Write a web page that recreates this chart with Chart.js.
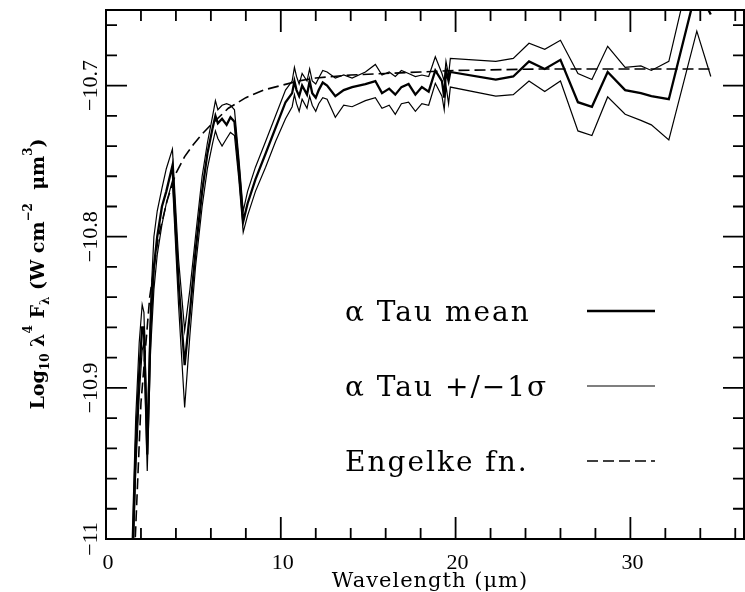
<!DOCTYPE html>
<html>
<head>
<meta charset="utf-8">
<script src="https://cdn.jsdelivr.net/npm/chart.js@4.4.1/dist/chart.umd.min.js"></script>
<style>
  html, body { margin: 0; padding: 0; background: #fff; }
  canvas { display: block; }
</style>
</head>
<body>
<canvas id="spectrum" width="745" height="592"></canvas>
<script>
// alpha Tau spectrum (microns / log10 lambda^4 F_lambda)
const wavelength = [
  1.50, 1.70, 1.90, 2.07, 2.17, 2.36, 2.55, 2.74, 2.93, 3.20,
  3.45, 3.80, 4.15, 4.50, 4.80, 5.12, 5.50, 5.80, 6.10, 6.26,
  6.40, 6.64, 6.90, 7.12, 7.35, 7.60, 7.85, 8.10, 8.55, 9.13,
  9.70, 10.27, 10.65, 10.78, 10.90, 11.05, 11.22, 11.50, 11.65, 11.80,
  12.00, 12.17, 12.40, 12.65, 13.12, 13.60, 14.08, 14.84, 15.41, 15.79,
  16.20, 16.55, 16.90, 17.31, 17.70, 18.07, 18.46, 18.84, 19.22, 19.35,
  19.45, 19.60, 19.70, 22.30, 23.30, 24.20, 25.10, 26.00, 27.00, 27.80,
  28.70, 29.70, 30.60, 31.20, 32.20, 33.80, 34.60
];
const tauMean = [
  -11.02, -10.94, -10.89, -10.86, -10.86, -10.944, -10.86, -10.82, -10.80, -10.78,
  -10.77, -10.753, -10.83, -10.885, -10.85, -10.81, -10.77, -10.745, -10.728, -10.72,
  -10.725, -10.722, -10.726, -10.721, -10.724, -10.755, -10.79, -10.778, -10.762, -10.745,
  -10.728, -10.711, -10.705, -10.697, -10.703, -10.707, -10.700, -10.706, -10.697, -10.705,
  -10.708, -10.703, -10.698, -10.700, -10.707, -10.703, -10.701, -10.699, -10.697, -10.705,
  -10.702, -10.706, -10.701, -10.699, -10.706, -10.701, -10.704, -10.690, -10.697, -10.708,
  -10.690, -10.697, -10.691, -10.696, -10.694, -10.684, -10.689, -10.683, -10.711, -10.714,
  -10.691, -10.703, -10.705, -10.707, -10.709, -10.635, -10.653
];
const tauPlus = [
  -11.00, -10.92, -10.87, -10.845, -10.85, -10.93, -10.845, -10.80, -10.783, -10.768,
  -10.755, -10.742, -10.815, -10.862, -10.835, -10.80, -10.76, -10.738, -10.72, -10.71,
  -10.716, -10.713, -10.712, -10.713, -10.716, -10.748, -10.783, -10.77, -10.754, -10.737,
  -10.720, -10.703, -10.697, -10.688, -10.694, -10.699, -10.692, -10.697, -10.689, -10.697,
  -10.699, -10.695, -10.690, -10.691, -10.695, -10.693, -10.695, -10.691, -10.686, -10.693,
  -10.691, -10.694, -10.690, -10.692, -10.694, -10.693, -10.694, -10.681, -10.692, -10.697,
  -10.684, -10.693, -10.682, -10.684, -10.682, -10.672, -10.676, -10.670, -10.692, -10.696,
  -10.674, -10.688, -10.687, -10.690, -10.684, -10.605, -10.612
];
const tauMinus = [
  -11.03, -10.955, -10.905, -10.875, -10.87, -10.955, -10.875, -10.835, -10.812, -10.792,
  -10.778, -10.763, -10.845, -10.913, -10.865, -10.82, -10.78, -10.755, -10.738, -10.73,
  -10.735, -10.74, -10.735, -10.731, -10.733, -10.762, -10.797, -10.786, -10.77, -10.754,
  -10.737, -10.722, -10.714, -10.706, -10.712, -10.717, -10.709, -10.715, -10.707, -10.713,
  -10.717, -10.712, -10.708, -10.709, -10.721, -10.713, -10.714, -10.710, -10.708, -10.715,
  -10.713, -10.719, -10.712, -10.711, -10.717, -10.712, -10.713, -10.6985, -10.707, -10.716,
  -10.700, -10.712, -10.701, -10.707, -10.706, -10.697, -10.704, -10.697, -10.730, -10.733,
  -10.7075, -10.719, -10.723, -10.726, -10.736, -10.664, -10.694
];

const engelkeWave = [1.6, 2.0, 2.5, 3.0, 3.5, 4.0, 4.5, 5.0, 5.5, 6.0, 7.0, 8.0,
  9.0, 10.0, 11.0, 12.0, 13.0, 14.0, 16.0, 18.0, 20.0, 25.0, 30.0, 34.6];
const engelkeFlux = [-11.02, -10.91, -10.84, -10.80, -10.776, -10.758, -10.747, -10.739,
  -10.732, -10.726, -10.715, -10.708, -10.703, -10.700, -10.697, -10.695, -10.694,
  -10.693, -10.692, -10.691, -10.690, -10.689, -10.689, -10.689];

const xTickLabels = [0, 10, 20, 30];
const yTickLabels = [-11, -10.9, -10.8, -10.7];

function toPoints(xs, ys) {
  return xs.map((x, i) => ({ x: x, y: ys[i] }));
}

// frame, inward ticks, labels, titles and the legend, all placed with the chart's scales
const framePlugin = {
  id: 'frame',
  afterDatasetsDraw(chart) {
    const ctx = chart.ctx;
    const a = chart.chartArea;
    const sx = chart.scales.x;
    const sy = chart.scales.y;
    ctx.save();
    ctx.strokeStyle = '#000';
    ctx.fillStyle = '#000';
    ctx.lineWidth = 2;
    ctx.strokeRect(a.left, a.top, a.right - a.left, a.bottom - a.top);

    ctx.lineWidth = 1.8;
    ctx.beginPath();
    for (let i = 0; i * 2 <= sx.max; i++) {
      const v = i * 2;
      const px = sx.getPixelForValue(v);
      const len = v % 10 === 0 ? 22 : 11;
      ctx.moveTo(px, a.bottom); ctx.lineTo(px, a.bottom - len);
      ctx.moveTo(px, a.top); ctx.lineTo(px, a.top + len);
    }
    for (let i = 0; sy.min + i * 0.02 <= sy.max + 1e-9; i++) {
      const v = sy.min + i * 0.02;
      const py = sy.getPixelForValue(v);
      const major = Math.abs(v * 10 - Math.round(v * 10)) < 1e-6;
      const len = major ? 21 : 11;
      ctx.moveTo(a.left, py); ctx.lineTo(a.left + len, py);
      ctx.moveTo(a.right, py); ctx.lineTo(a.right - len, py);
    }
    ctx.stroke();

    ctx.font = '22px "Liberation Serif"';
    ctx.textAlign = 'center';
    ctx.textBaseline = 'alphabetic';
    xTickLabels.forEach(v => {
      ctx.fillText(String(v), sx.getPixelForValue(v) + 2, 569);
    });
    yTickLabels.forEach(v => {
      ctx.save();
      ctx.translate(97, sy.getPixelForValue(v));
      ctx.rotate(-Math.PI / 2);
      ctx.fillText(String(v).replace('-', '\u2212'), 0, 0);
      ctx.restore();
    });

    ctx.font = '21px "DejaVu Serif"';
    ctx.letterSpacing = '1px';
    ctx.fillText('Wavelength (\u03bcm)', 430, 587);
    ctx.letterSpacing = '0px';

    // y title with sub/superscripts
    const parts = [
      ['Log', 0], ['10', 1], [' \u03bb', 0], ['4', -1], [' F', 0], ['\u03bb', 1],
      [' (W cm', 0], ['\u22122', -1], ['  \u03bcm', 0], ['3', -1], [')', 0]
    ];
    const big = 'bold 19px "DejaVu Serif"';
    const small = 'bold 12px "DejaVu Serif"';
    let total = 0;
    parts.forEach(p => { ctx.font = p[1] ? small : big; total += ctx.measureText(p[0]).width; });
    ctx.save();
    ctx.translate(44, 274);
    ctx.rotate(-Math.PI / 2);
    ctx.textAlign = 'left';
    let cx = -total / 2;
    parts.forEach(p => {
      ctx.font = p[1] ? small : big;
      const dy = p[1] === 1 ? 5 : (p[1] === -1 ? -12 : 0);
      ctx.fillText(p[0], cx, dy);
      cx += ctx.measureText(p[0]).width;
    });
    ctx.restore();

    // legend
    ctx.font = '28px "DejaVu Serif"';
    ctx.letterSpacing = '2px';
    ctx.textAlign = 'left';
    const rows = [321, 396, 471];
    chart.data.datasets.filter(d => d.inLegend).forEach((d, i) => {
      ctx.fillText(d.label, 345, rows[i]);
      ctx.save();
      ctx.lineWidth = d.borderWidth;
      ctx.setLineDash(d.borderDash || []);
      ctx.beginPath();
      ctx.moveTo(587, rows[i] - 10);
      ctx.lineTo(655, rows[i] - 10);
      ctx.stroke();
      ctx.restore();
    });
    ctx.restore();
  }
};

new Chart(document.getElementById('spectrum').getContext('2d'), {
  type: 'line',
  data: {
    datasets: [
      {
        label: '\u03b1 Tau mean',
        data: toPoints(wavelength, tauMean),
        borderColor: '#000', borderWidth: 2.3, inLegend: true
      },
      {
        label: '\u03b1 Tau +/\u22121\u03c3',
        data: toPoints(wavelength, tauPlus),
        borderColor: '#000', borderWidth: 1.2, inLegend: true
      },
      {
        label: '\u03b1 Tau +/\u22121\u03c3 (low)',
        data: toPoints(wavelength, tauMinus),
        borderColor: '#000', borderWidth: 1.2, inLegend: false
      },
      {
        label: 'Engelke fn.',
        data: toPoints(engelkeWave, engelkeFlux),
        borderColor: '#000', borderWidth: 1.6, borderDash: [11, 5], inLegend: true
      }
    ]
  },
  options: {
    responsive: false,
    animation: false,
    elements: { point: { radius: 0 }, line: { tension: 0 } },
    layout: { padding: { left: 106, right: 1, top: 10, bottom: 53 } },
    scales: {
      x: { type: 'linear', min: 0, max: 36.5, display: false },
      y: { type: 'linear', min: -11, max: -10.65, display: false }
    },
    plugins: {
      legend: { display: false },
      tooltip: { enabled: false }
    }
  },
  plugins: [framePlugin]
});
</script>
</body>
</html>
